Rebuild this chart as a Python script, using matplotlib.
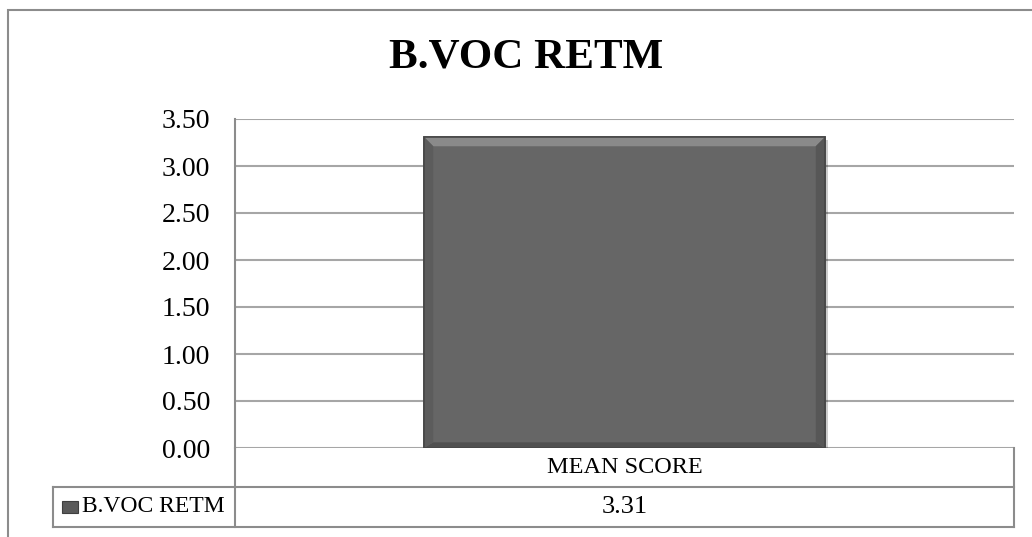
import matplotlib
matplotlib.use("Agg")
import matplotlib.pyplot as plt
from matplotlib.patches import Rectangle, Polygon
from matplotlib.lines import Line2D
import matplotlib.patheffects as pe

title = "B.VOC RETM"
categories = ["MEAN SCORE"]
series_name = "B.VOC RETM"
values = [3.31]
yticks = [0.0, 0.5, 1.0, 1.5, 2.0, 2.5, 3.0, 3.5]

W, H = 1032, 537
plt.rcParams['font.family'] = ['Liberation Serif', 'DejaVu Serif']
fig = plt.figure(figsize=(W / 100, H / 100), dpi=100)

def fx(x):
    return x / W

def fy(y):
    return 1 - y / H

# pixel layout
L, R, T, B = 235, 1014, 119, 448
ROW1, ROW2 = 487, 527
LEG_L = 53
GRID = "#a6a6a6"
LINE = "#8c8c8c"

ax = fig.add_axes([fx(L), fy(B), fx(R) - fx(L), fy(T) - fy(B)])
ax.set_xlim(-0.5, len(categories) - 0.5)
ax.set_ylim(0, 3.5)
ax.set_yticks(yticks)
ax.set_yticklabels([f"{v:.2f}" for v in yticks], fontsize=20)
ax.tick_params(axis='y', length=0, pad=18)
ax.set_xticks([])
for s in ax.spines.values():
    s.set_visible(False)
ax.spines['left'].set_visible(True)
ax.spines['left'].set_color(LINE)
ax.spines['left'].set_linewidth(1.5)
ax.yaxis.grid(True, color=GRID, lw=1.5)
ax.set_axisbelow(True)

bw = 0.515
bars = ax.bar(range(len(values)), values, width=bw, color="#666666",
              edgecolor="#4a4a4a", lw=1.2, zorder=3)
for b in bars:
    b.set_path_effects([pe.SimplePatchShadow(offset=(2, -2), shadow_rgbFace="#000000", alpha=0.2),
                        pe.Normal()])
    x0, x1 = b.get_x(), b.get_x() + b.get_width()
    v = b.get_height()
    dx = 0.012
    dy = 0.1
    ax.add_patch(Polygon([[x0, v], [x1, v], [x1 - dx, v - dy], [x0 + dx, v - dy]],
                         closed=True, facecolor="#8a8a8a", edgecolor="none", zorder=4))
    ax.add_patch(Polygon([[x0, 0], [x1, 0], [x1 - dx, dy * 0.6], [x0 + dx, dy * 0.6]],
                         closed=True, facecolor="#505050", edgecolor="none", zorder=4))
    ax.add_patch(Polygon([[x0, 0], [x0, v], [x0 + dx, v - dy], [x0 + dx, dy * 0.6]],
                         closed=True, facecolor="#5c5c5c", edgecolor="none", zorder=4))
    ax.add_patch(Polygon([[x1, 0], [x1, v], [x1 - dx, v - dy], [x1 - dx, dy * 0.6]],
                         closed=True, facecolor="#575757", edgecolor="none", zorder=4))
    ax.add_patch(Rectangle((x0, 0), x1 - x0, v, fill=False, edgecolor="#474747", lw=1.2, zorder=5))

# outer chart border
fig.add_artist(Rectangle((fx(8), fy(H + 20)), fx(W + 20) - fx(8), fy(10) - fy(H + 20),
                         fill=False, edgecolor=LINE, lw=1.5, transform=fig.transFigure))

# data table lines
def hline(y, x0, x1):
    fig.add_artist(Line2D([fx(x0), fx(x1)], [fy(y), fy(y)], color=LINE, lw=1.5,
                          transform=fig.transFigure))

def vline(x, y0, y1):
    fig.add_artist(Line2D([fx(x), fx(x)], [fy(y0), fy(y1)], color=LINE, lw=1.5,
                          transform=fig.transFigure))

vline(L, B, ROW2)
vline(R, B, ROW2)
vline(LEG_L, ROW1, ROW2)
hline(ROW1, LEG_L, R)
hline(ROW2, LEG_L, R)

ncat = len(categories)
cw = (R - L) / ncat
for i, (c, v) in enumerate(zip(categories, values)):
    cx = L + cw * (i + 0.5)
    fig.text(fx(cx), fy((B + ROW1) / 2), c, ha='center', va='center', fontsize=17.5)
    fig.text(fx(cx), fy((ROW1 + ROW2) / 2), f"{v:.2f}", ha='center', va='center', fontsize=19)
    if i > 0:
        vline(L + cw * i, B, ROW2)

# legend key
fig.add_artist(Rectangle((fx(62), fy(513)), fx(78) - fx(62), fy(501) - fy(513),
                         facecolor="#5a5a5a", edgecolor="#3f3f3f", lw=0.8,
                         transform=fig.transFigure))
fig.text(fx(82), fy((ROW1 + ROW2) / 2), series_name, ha='left', va='center', fontsize=17)

fig.text(fx(526), fy(58), title, ha='center', va='center',
         fontsize=31, fontweight='bold')

fig.savefig("out.png", dpi=100)
